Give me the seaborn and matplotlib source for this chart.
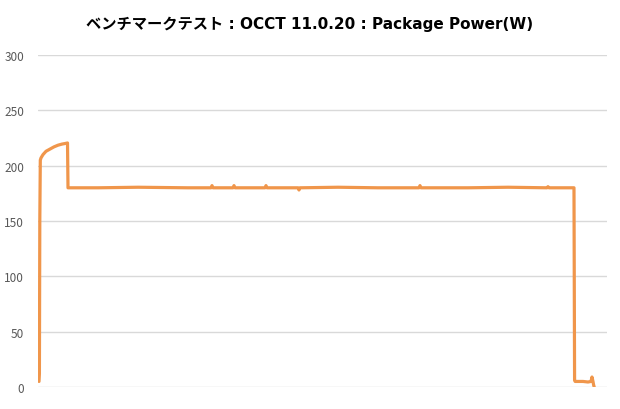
import matplotlib
matplotlib.use("Agg")
import matplotlib.pyplot as plt
import seaborn as sns
import pandas as pd

# ── Data ──────────────────────────────────────────────────────────────────────
elapsed = [1, 1.4, 1.8, 2.3, 3, 5, 8, 12, 16, 20, 24, 27, 29.5, 30,
           60, 100, 150, 173, 174, 175, 195, 196, 197, 227, 228, 229,
           260, 261, 262, 300, 340, 381, 382, 383, 430, 470, 509, 510, 511,
           536, 536.6, 537.2, 545, 550, 553, 554, 555, 555.6, 556.2]
power = [5, 12, 150, 205, 207, 210, 213, 215, 217, 218.5, 219.5, 220, 220.5, 180,
         180, 180.5, 180, 180, 182, 180, 180, 182, 180, 180, 182, 180,
         180, 178, 180, 180.5, 180, 180, 182, 180, 180, 180.5, 180, 181, 180,
         180, 6, 5, 5, 4.5, 5, 9, 5, 2, 0]
y_ticks = [0, 50, 100, 150, 200, 250, 300]
title = "ベンチマークテスト : OCCT 11.0.20 : Package Power(W)"

df = pd.DataFrame({"elapsed": elapsed, "power": power})

# ── Style ─────────────────────────────────────────────────────────────────────
sns.set_theme(style="white")
plt.rcParams["font.family"] = ["Noto Sans CJK JP", "DejaVu Sans"]

fig = plt.figure(figsize=(6.2, 4.1), dpi=100)
ax = fig.add_axes([0.0613, 0.0537, 0.9177, 0.8097])

sns.lineplot(data=df, x="elapsed", y="power", ax=ax, color="#F0964B",
             linewidth=2.3, sort=False)

ax.set_xlim(0, 569)
ax.set_ylim(0, 300)
ax.set_yticks(y_ticks)
ax.yaxis.grid(True, color="#D9D9D9", linewidth=1)
ax.set_axisbelow(True)
ax.set_xticks([])
ax.set_xlabel("")
ax.set_ylabel("")
for s in ax.spines.values():
    s.set_visible(False)
ax.tick_params(axis="y", length=0, pad=10, labelsize=8.5, labelcolor="#595959")

# title: wide Latin glyphs (Verdana-like), kana from the CJK font
fig.text(0.5, 0.94, title, ha="center", va="center",
         fontsize=11, fontweight="bold", color="#000000",
         family=["DejaVu Sans", "Noto Sans CJK JP"])

fig.savefig("out.png", dpi=100)
